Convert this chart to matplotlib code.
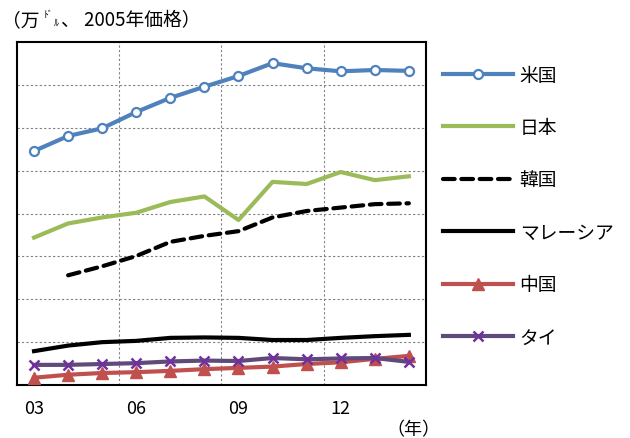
import matplotlib.pyplot as plt

plt.rcParams['font.family'] = ['Noto Sans CJK JP', 'DejaVu Sans']

years = list(range(2003, 2015))
years_kr = list(range(2004, 2015))

# values in grid units (labels are cut off in the source)
us = [5.46, 5.81, 5.99, 6.37, 6.70, 6.96, 7.21, 7.51, 7.39, 7.32, 7.35, 7.33]
japan = [3.44, 3.77, 3.91, 4.02, 4.27, 4.40, 3.85, 4.74, 4.69, 4.97, 4.78, 4.87]
korea = [2.56, 2.77, 3.01, 3.34, 3.48, 3.59, 3.91, 4.06, 4.14, 4.22, 4.24]
malaysia = [0.79, 0.92, 1.00, 1.03, 1.10, 1.11, 1.10, 1.05, 1.05, 1.10, 1.14, 1.17]
china = [0.17, 0.24, 0.28, 0.30, 0.33, 0.37, 0.40, 0.43, 0.49, 0.53, 0.61, 0.68]
thai = [0.47, 0.47, 0.49, 0.51, 0.55, 0.57, 0.56, 0.63, 0.60, 0.62, 0.63, 0.54]

fig = plt.figure(figsize=(6.3, 4.39), dpi=100)
ax = fig.add_axes([0.027, 0.1207, 0.649, 0.781])

lw = 3.0
ax.plot(years, us, color='#4F81BD', lw=lw, marker='o', markersize=6.5,
        markerfacecolor='white', markeredgecolor='#4F81BD', markeredgewidth=1.6,
        label='米国', zorder=5)
ax.plot(years, japan, color='#9BBB59', lw=lw, label='日本', zorder=4)
ax.plot(years_kr, korea, color='black', lw=lw, dashes=(2.8, 1.6),
        dash_capstyle='round', label='韓国', zorder=4)
ax.plot(years, malaysia, color='black', lw=lw, label='マレーシア', zorder=4)
ax.plot(years, china, color='#C0504D', lw=lw, marker='^', markersize=8,
        label='中国', zorder=5)
ax.plot(years, thai, color='#604A7B', lw=lw, marker='x', markersize=7,
        markeredgecolor='#7030A0', markeredgewidth=1.8, label='タイ', zorder=6)

ax.set_xlim(2002.5, 2014.5)
ax.set_ylim(0, 8)
ax.set_yticks(range(1, 8))
ax.set_yticklabels([])
ax.set_xticks([2003, 2006, 2009, 2012])
ax.set_xticklabels(['03', '06', '09', '12'], fontsize=13)
ax.tick_params(length=0, pad=10)
ax.yaxis.grid(True, color='#808080', linestyle=(0, (2, 2)), lw=0.8)
for xv in [2005.5, 2008.5, 2011.5]:
    ax.axvline(xv, color='#808080', linestyle=(0, (2, 2)), lw=0.8, zorder=1)
for s in ax.spines.values():
    s.set_linewidth(1.5)

fig.legend(loc='upper left', bbox_to_anchor=(0.676, 0.889), frameon=False,
           fontsize=13.5, handlelength=3.73, labelspacing=1.675, handletextpad=0.37)

fig.text(0.003, 0.94, '（万', fontsize=13.5, va='baseline')
fig.text(0.069, 0.958, 'ﾄﾞ', fontsize=7, va='baseline')
fig.text(0.086, 0.942, 'ﾙ', fontsize=7, va='baseline')
fig.text(0.097, 0.94, '、 2005年価格）', fontsize=13.5, va='baseline')
fig.text(0.613, 0.008, '（年）', fontsize=13, va='baseline')

fig.savefig('out.png', dpi=100)
